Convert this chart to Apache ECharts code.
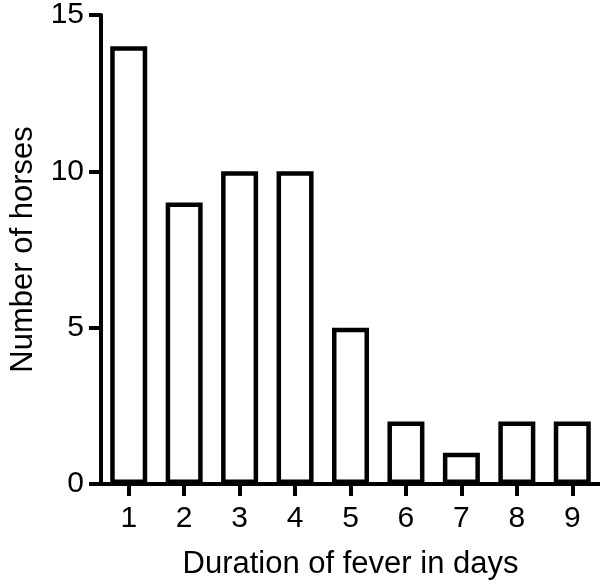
<!DOCTYPE html>
<html>
<head>
<meta charset="utf-8">
<script src="https://cdn.jsdelivr.net/npm/echarts@6/dist/echarts.min.js"></script>
<style>
html,body{margin:0;padding:0;background:#fff;}
#chart{width:600px;height:585px;}
</style>
</head>
<body>
<div id="chart"></div>
<script>
const categories = ['1','2','3','4','5','6','7','8','9'];
const horses = [14, 9, 10, 10, 5, 2, 1, 2, 2];
const yTicks = [0, 5, 10, 15];

const chart = echarts.init(document.getElementById('chart'), null, {renderer: 'canvas'});
const font = 'Arial, "Liberation Sans", Helvetica, sans-serif';
chart.setOption({
  animation: false,
  backgroundColor: '#fff',
  grid: {left: 95, right: 0, top: 12, bottom: 97, containLabel: false},
  xAxis: {
    type: 'category',
    data: categories,
    boundaryGap: true,
    name: 'Duration of fever in days',
    nameLocation: 'middle',
    nameGap: 65,
    nameTextStyle: {fontFamily: font, fontSize: 31, color: '#000'},
    axisLine: {lineStyle: {color: '#000', width: 4}},
    axisTick: {show: true, alignWithLabel: true, length: 12, lineStyle: {color: '#000', width: 4}},
    axisLabel: {fontFamily: font, fontSize: 30, color: '#000', margin: 20}
  },
  yAxis: {
    type: 'value',
    min: 0, max: 15, interval: 5,
    name: 'Number of horses',
    nameLocation: 'middle',
    nameGap: 62,
    nameTextStyle: {fontFamily: font, fontSize: 31, color: '#000'},
    splitLine: {show: false},
    axisLine: {show: true, lineStyle: {color: '#000', width: 4}},
    axisTick: {show: true, length: 12, lineStyle: {color: '#000', width: 4}},
    axisLabel: {fontFamily: font, fontSize: 30, color: '#000', margin: 17,
      formatter: v => yTicks.includes(v) ? String(v) : ''}
  },
  series: [{
    type: 'bar',
    data: horses,
    barWidth: 37,
    itemStyle: {color: '#fff', borderColor: '#000', borderWidth: 4.5}
  }]
});
</script>
</body>
</html>
